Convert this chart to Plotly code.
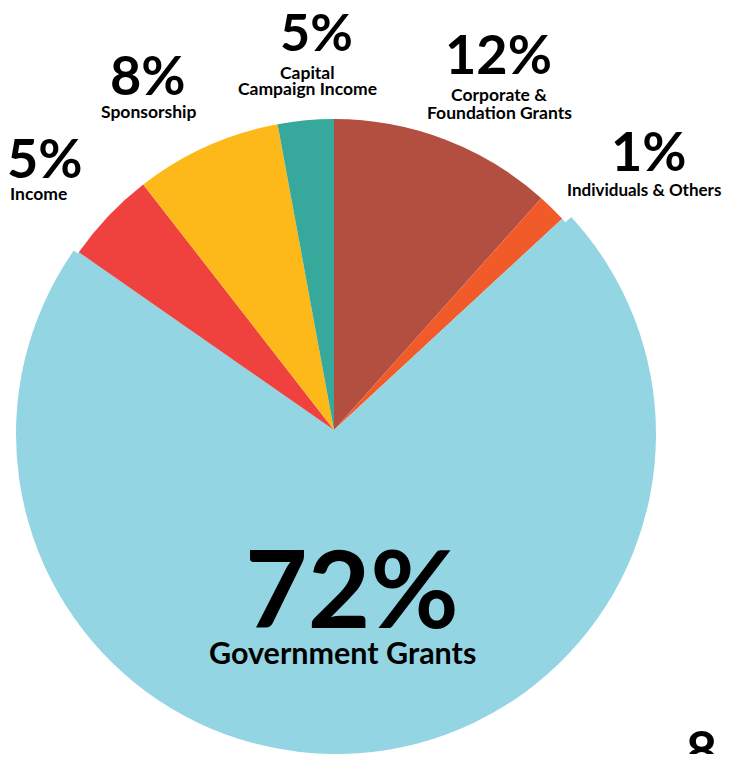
import plotly.graph_objects as go

# Data (shares), clockwise from 12 o'clock
categories = ["Corporate & Foundation Grants", "Individuals & Others", "Government Grants",
              "Income", "Sponsorship", "Capital Campaign Income"]
values = [11.6, 1.5, 71.5, 4.8, 7.6, 2.9]
pct_labels = ["12%", "1%", "72%", "5%", "8%", "5%"]
name_lines = [["Corporate &", "Foundation Grants"], ["Individuals & Others"], ["Government Grants"],
              ["Income"], ["Sponsorship"], ["Capital", "Campaign Income"]]
colors = ["#B34F40", "#F15A29", "#93D5E3", "#EF413D", "#FDB91A", "#36A89C"]

W, H = 715, 746      # figure size; page body margin adds 8px on each side
OX, OY = 8, 8

def dom(cx, cy, r):
    cx -= OX
    cy -= OY
    clamp = lambda v: min(1.0, max(0.0, v))
    return dict(x=[clamp((cx - r) / W), clamp((cx + r) / W)],
                y=[clamp(1 - (cy + r) / H), clamp(1 - (cy - r) / H)])

fig = go.Figure()
# larger blue rim underneath
fig.add_trace(go.Pie(
    labels=categories, values=values, sort=False, direction="clockwise", rotation=0.1,
    marker=dict(colors=["rgba(0,0,0,0)" if c != "#93D5E3" else c for c in colors], line=dict(width=0)),
    textinfo="none", hoverinfo="skip", showlegend=False, domain=dom(336, 434, 320)))
fig.add_trace(go.Pie(
    labels=categories, values=values, sort=False, direction="clockwise", rotation=0,
    marker=dict(colors=colors, line=dict(width=0)),
    textinfo="none", showlegend=False, domain=dom(334, 430, 311)))

FONT = "Lato"
def ann(text, px, py, size, xanchor="center"):
    fig.add_annotation(text=text, x=(px - OX) / W, y=1 - (py - OY) / H, xref="paper", yref="paper",
                       xanchor=xanchor, yanchor="middle", showarrow=False,
                       font=dict(family=FONT, size=size, color="#000000", weight=700))

PS, NS = 54, 17.5
ann(pct_labels[0], 498, 53, PS)
ann(name_lines[0][0], 499, 95, NS)
ann(name_lines[0][1], 499, 113, NS)
ann(pct_labels[1], 649, 150, PS)
ann(name_lines[1][0], 644, 190, 17)
ann(pct_labels[2], 352, 586, 108)
ann(name_lines[2][0], 342, 652, 30.5)
ann(pct_labels[3], 5, 157, PS, xanchor="left")
ann(name_lines[3][0], 8, 194, NS, xanchor="left")
ann(pct_labels[4], 148, 74, PS)
ann(name_lines[4][0], 149, 112, NS)
ann(pct_labels[5], 316, 31, 52)
ann(name_lines[5][0], 307, 72, NS)
ann(name_lines[5][1], 307, 89, NS)
ann("8.", 684, 749, PS, xanchor="left")

fig.update_layout(width=W, height=H, margin=dict(l=0, r=0, t=0, b=0),
                  paper_bgcolor="white", plot_bgcolor="white")
fig.write_html("out.html")
